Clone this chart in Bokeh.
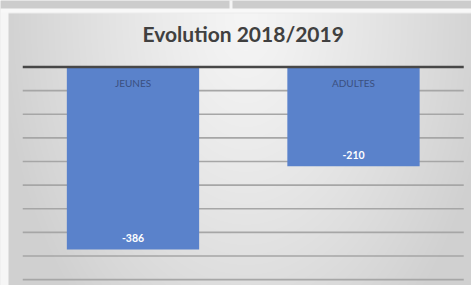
import numpy as np
from bokeh.plotting import figure
from bokeh.models import Range1d, ColumnDataSource, Label
from bokeh.core.properties import value
from bokeh.embed import file_html
from bokeh.resources import INLINE

categories = ["JEUNES", "ADULTES"]
values = [-386, -210]
value_labels = ["-386", "-210"]
grid_ticks = [-50, -100, -150, -200, -250, -300, -350, -400, -450]
title_text = "Evolution 2018/2019"

W, H = 471, 285
n = len(categories)
xpos = [i + 0.5 for i in range(n)]

x_start, x_end = -0.1009, 2.0352
y_start, y_end = -462.4, 140.7

src = ColumnDataSource(dict(x=xpos, cat=categories, val=values, lab=value_labels,
                            zero=[0] * n))

p = figure(width=W, height=H, x_range=Range1d(x_start, x_end), y_range=Range1d(y_start, y_end),
           output_backend="svg", toolbar_location=None,
           min_border_left=0, min_border_right=0, min_border_top=0, min_border_bottom=0)
p.outline_line_color = None
p.axis.visible = False
p.grid.visible = False
p.background_fill_color = "#dedede"
p.border_fill_color = "#dedede"

# background: radial grey gradient of the chart area + screenshot strips
yy, xx = np.mgrid[0:H, 0:W].astype(float)
r = np.sqrt(((xx - 245) / 250.0) ** 2 + ((yy - 15) / 400.0) ** 2)
g = 245 - 37 * np.clip(r, 0, 1) ** 1.2
g[:, :8] = 246
g[:8, :] = 204
g[:8, 229:232] = 245
g[8:12, :] = 248
g[12, 8:] = 236
gi = g.astype(np.uint32)
img = (255 << 24) | (gi << 16) | (gi << 8) | gi
img = img[::-1].astype(np.uint32)
p.image_rgba(image=[img], x=x_start, y=y_start, dw=x_end - x_start, dh=y_end - y_start,
             level="image")

# horizontal gridlines across the category extent
p.segment(x0=[0] * len(grid_ticks), x1=[n] * len(grid_ticks), y0=grid_ticks, y1=grid_ticks,
          line_color="#a6a6a6", line_width=1.6)

p.vbar(x="x", top="val", bottom=0, width=0.6, source=src,
       fill_color="#5a82cb", line_color=None)

# zero line
p.segment(x0=[0], x1=[n], y0=[0], y1=[0], line_color="#474747", line_width=2.5)

p.text(x="x", y="zero", text="cat", source=src, y_offset=16,
       text_align="center", text_baseline="middle", text_font=value("Lato"),
       text_font_size="10px", text_color="#3a5080")
p.text(x="x", y="val", text="lab", source=src, y_offset=-11.5,
       text_align="center", text_baseline="middle", text_font=value("Lato"),
       text_font_size="10.5px", text_font_style="bold", text_color="#ffffff")

p.add_layout(Label(x=n / 2, y=70, text=title_text, text_align="center",
                   text_baseline="alphabetic", text_font="Lato", text_font_size="21px",
                   text_font_style="bold", text_color="#404040"))

open("out.html", "w").write(file_html(p, INLINE))
